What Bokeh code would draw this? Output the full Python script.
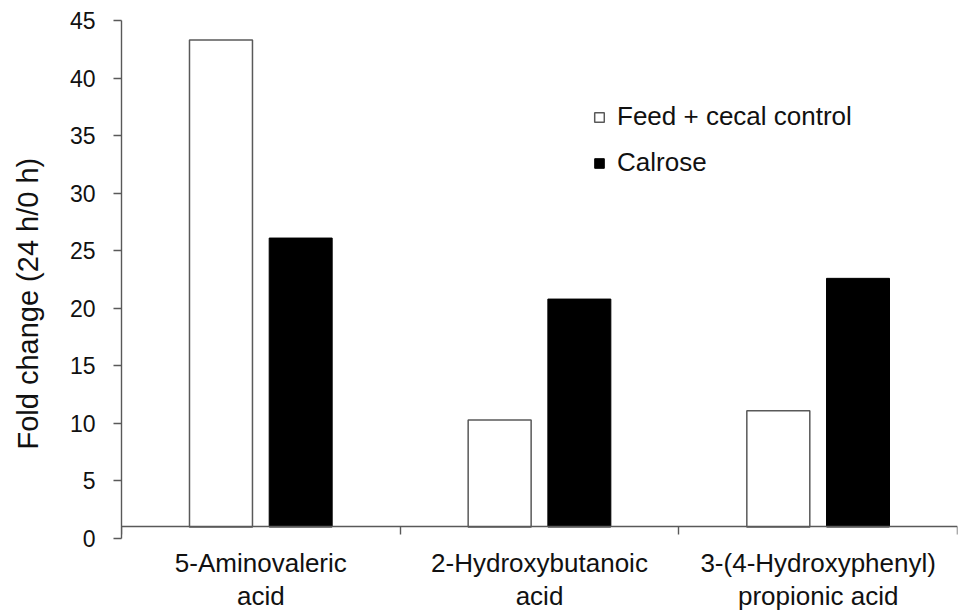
import numpy as np
from bokeh.plotting import figure
from bokeh.models import (ColumnDataSource, Range1d, LinearAxis, FixedTicker,
                          Legend, LegendItem)
from bokeh.transform import dodge
from bokeh.embed import file_html
from bokeh.resources import INLINE

# ---- data ----
categories = ["5-Aminovaleric\nacid", "2-Hydroxybutanoic\nacid", "3-(4-Hydroxyphenyl)\npropionic acid"]
feed_control = [43.3, 10.3, 11.1]
calrose = [26.1, 20.8, 22.6]
series_names = ["Feed + cecal control", "Calrose"]
y_ticks = list(range(0, 50, 5))
y_title = "Fold change (24 h/0 h)"
baseline = 1  # horizontal axis crosses the value axis at 1

FONT = "Liberation Sans"
AXIS_COLOR = "#595959"
TEXT_COLOR = "#111111"
TITLE_PAD = "\u00a0" * 6  # trailing no-break spaces nudge the title below centre

positions = np.arange(len(categories)) + 0.5
boundaries = list(np.arange(len(categories) + 1).astype(float))

src = ColumnDataSource(dict(pos=positions, feed=feed_control, cal=calrose,
                            base=[baseline] * len(categories)))

p = figure(width=960, height=613, output_backend="svg", toolbar_location=None,
           x_range=Range1d(0, len(categories)), y_range=Range1d(0, 45),
           min_border_left=121, min_border_right=3, min_border_top=20,
           min_border_bottom=73)
p.outline_line_color = None
p.grid.visible = False
p.background_fill_color = "white"
p.border_fill_color = "white"

r1 = p.vbar(x=dodge("pos", -0.143, range=p.x_range), top="feed", bottom="base",
            width=0.226, source=src, fill_color="white",
            line_color=AXIS_COLOR, line_width=1.5)
r2 = p.vbar(x=dodge("pos", 0.143, range=p.x_range), top="cal", bottom="base",
            width=0.226, source=src, fill_color="black",
            line_color="black", line_width=1)

# y axis
ya = p.yaxis[0]
ya.ticker = FixedTicker(ticks=y_ticks, minor_ticks=[])
ya.axis_line_color = AXIS_COLOR
ya.axis_line_width = 1.4
ya.major_tick_line_color = AXIS_COLOR
ya.major_tick_line_width = 1.4
ya.major_tick_in = 0
ya.major_tick_out = 8
ya.minor_tick_line_color = None
ya.major_label_standoff = 18
ya.major_label_text_font = FONT
ya.major_label_text_font_size = "23px"
ya.major_label_text_color = TEXT_COLOR
ya.axis_label = y_title + TITLE_PAD
ya.axis_label_standoff = 23
ya.axis_label_text_font = FONT
ya.axis_label_text_font_size = "29px"
ya.axis_label_text_font_style = "normal"
ya.axis_label_text_color = TEXT_COLOR

# x axis: category labels
xa = p.xaxis[0]
xa.ticker = FixedTicker(ticks=list(positions), minor_ticks=[])
xa.major_label_overrides = {float(pos): lab for pos, lab in zip(positions, categories)}
xa.axis_line_color = None
xa.major_tick_line_color = None
xa.minor_tick_line_color = None
xa.major_tick_in = 0
xa.major_tick_out = 0
xa.minor_tick_out = 0
xa.major_label_standoff = 9
xa.major_label_text_font = FONT
xa.major_label_text_font_size = "26px"
xa.major_label_text_color = TEXT_COLOR
xa.major_label_text_line_height = 1.1

# x axis line crossing at baseline, ticks at category boundaries
xb = LinearAxis(ticker=FixedTicker(ticks=boundaries, minor_ticks=[]),
                fixed_location=baseline)
xb.axis_line_color = AXIS_COLOR
xb.axis_line_width = 1.4
xb.major_tick_line_color = AXIS_COLOR
xb.major_tick_line_width = 1.4
xb.major_tick_in = 0
xb.major_tick_out = 8
xb.minor_tick_line_color = None
xb.major_label_text_font_size = "0px"
xb.major_label_text_color = None
p.add_layout(xb, "below")

legend = Legend(items=[LegendItem(label=series_names[0], renderers=[r1]),
                       LegendItem(label=series_names[1], renderers=[r2])],
                location=(472, 360))
legend.border_line_color = None
legend.background_fill_alpha = 0
legend.padding = 0
legend.margin = 0
legend.spacing = 15
legend.glyph_width = 12
legend.glyph_height = 12
legend.label_standoff = 12
legend.label_text_font = FONT
legend.label_text_font_size = "26px"
legend.label_text_color = TEXT_COLOR
p.add_layout(legend)

open("out.html", "w").write(file_html(p, INLINE))
